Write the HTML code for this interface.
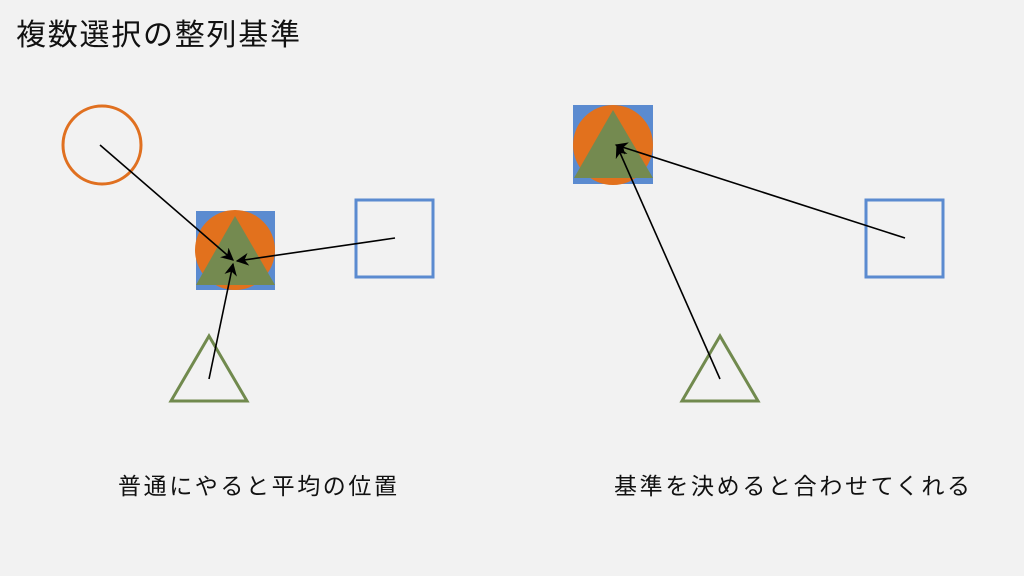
<!DOCTYPE html>
<html><head><meta charset="utf-8"><style>html,body{margin:0;padding:0;background:#f2f2f2}svg{display:block}text{font-family:"Liberation Sans","Noto Sans CJK JP",sans-serif;fill:#111}</style></head><body>
<svg width="1024" height="576" viewBox="0 0 1024 576" xmlns="http://www.w3.org/2000/svg">
<defs><marker id="a" viewBox="0 0 10 10" refX="9" refY="5" markerWidth="8" markerHeight="8" orient="auto"><path d="M0,0 L10,5 L0,10 L3,5 z" fill="#000"/></marker></defs>
<rect width="1024" height="576" fill="#f2f2f2"/>
<text x="16" y="45" font-size="30" textLength="284" lengthAdjust="spacing">複数選択の整列基準</text>
<circle cx="102" cy="145" r="39" fill="none" stroke="#e07020" stroke-width="3"/>
<rect x="356" y="200" width="77" height="77" fill="none" stroke="#5b8bd0" stroke-width="3"/>
<polygon points="209,336 171,401 247,401" fill="none" stroke="#718a4e" stroke-width="3"/>
<rect x="196" y="211" width="79" height="79" fill="#5b8bd0"/>
<circle cx="235" cy="250" r="40" fill="#e2711d"/>
<polygon points="235,216 196,285 275,285" fill="#748a50"/>
<line x1="100" y1="145" x2="233" y2="260" stroke="#000" stroke-width="1.6" marker-end="url(#a)"/>
<line x1="395" y1="238" x2="237" y2="261" stroke="#000" stroke-width="1.6" marker-end="url(#a)"/>
<line x1="209" y1="379" x2="233" y2="264" stroke="#000" stroke-width="1.6" marker-end="url(#a)"/>
<rect x="866" y="200" width="77" height="77" fill="none" stroke="#5b8bd0" stroke-width="3"/>
<polygon points="720,336 682,401 758,401" fill="none" stroke="#718a4e" stroke-width="3"/>
<rect x="573" y="105" width="80" height="79" fill="#5b8bd0"/>
<circle cx="613" cy="145" r="40" fill="#e2711d"/>
<polygon points="613,110 574,178 653,178" fill="#748a50"/>
<line x1="905" y1="238" x2="616" y2="145" stroke="#000" stroke-width="1.6" marker-end="url(#a)"/>
<line x1="720" y1="379" x2="617" y2="146" stroke="#000" stroke-width="1.6" marker-end="url(#a)"/>
<text x="118" y="494" font-size="23" textLength="279" lengthAdjust="spacing">普通にやると平均の位置</text>
<text x="614" y="494" font-size="23" textLength="356" lengthAdjust="spacing">基準を決めると合わせてくれる</text>
</svg>
</body></html>
